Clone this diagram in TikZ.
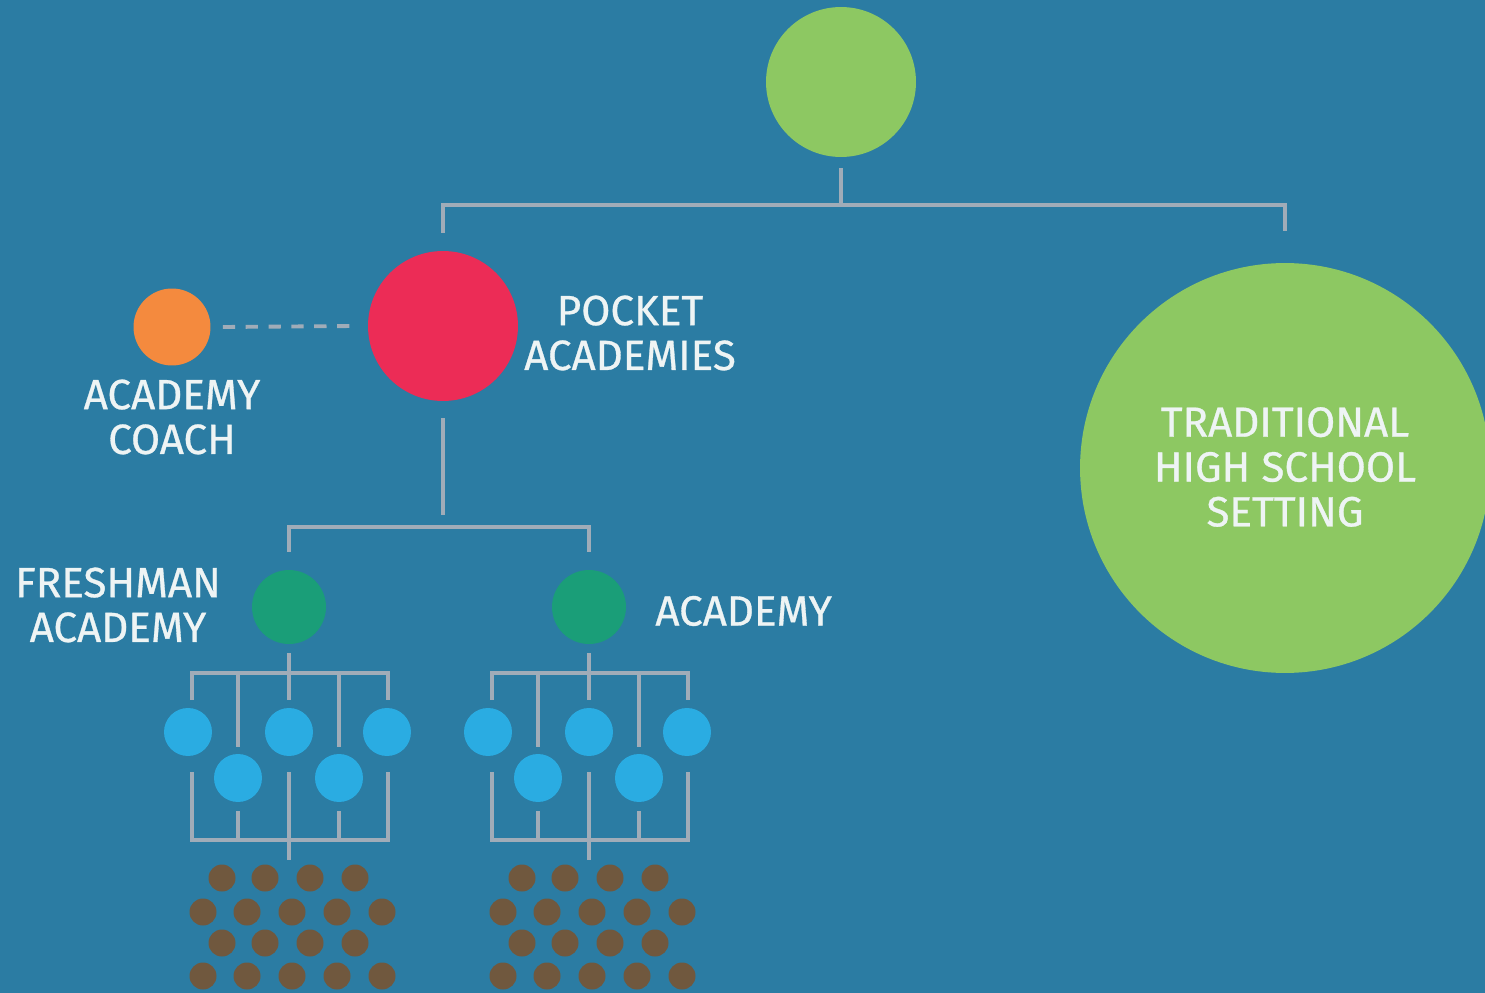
\documentclass[tikz,border=0pt]{standalone}
\usepackage{fontspec}
\setmainfont{Fira Sans}
\newfontfamily\lblfont{Fira Sans}[FakeBold=0.7]
\usetikzlibrary{calc}
\definecolor{bg}{RGB}{43,124,163}
\definecolor{lgreen}{RGB}{141,200,98}
\definecolor{pink}{RGB}{236,44,86}
\definecolor{orng}{RGB}{244,138,62}
\definecolor{dgreen}{RGB}{26,158,120}
\definecolor{lblue}{RGB}{42,172,226}
\definecolor{brwn}{RGB}{112,88,62}
\definecolor{lnc}{RGB}{160,172,184}
\definecolor{txt}{RGB}{238,244,244}
\begin{document}
\begin{tikzpicture}[x=0.02cm,y=-0.02cm,
  dot/.style={circle,inner sep=0pt,draw=none},
  conn/.style={draw=lnc,line width=2.2pt},
  dashconn/.style={draw=lnc,line width=2.2pt,dash pattern=on 7pt off 6pt},
  lbl/.style={text=txt,font=\lblfont\fontsize{24}{25.5}\selectfont,align=center,inner sep=0pt}]
\fill[bg] (0,0) rectangle (1485,993);
\useasboundingbox (0,0) rectangle (1485,993);
% main circles
\node[dot,fill=lgreen,minimum size=3cm] (top) at (841,82) {};
\node[dot,fill=pink,minimum size=3cm] (pocket) at (443,326) {};
\node[dot,fill=orng,minimum size=1.54cm] (coach) at (172,327) {};
\node[dot,fill=lgreen,minimum size=8.2cm] (trad) at (1285,468) {};
\node[dot,fill=dgreen,minimum size=1.48cm] (gfa) at (289,607) {};
\node[dot,fill=dgreen,minimum size=1.48cm] (gac) at (589,607) {};
% labels
\node[lbl] (coachlbl) at (172,417) {ACADEMY\\COACH};
\node[lbl] (pocketlbl) at (630,333) {POCKET\\ACADEMIES};
\node[lbl] (freshlbl) at (118,605) {FRESHMAN\\ACADEMY};
\node[lbl,anchor=west] (aclbl) at (655,611) {ACADEMY};
\node[lbl] (tradlbl) at (1285,467) {TRADITIONAL\\HIGH SCHOOL\\SETTING};
% top connectors
\coordinate (tbus) at (841,205);
\draw[conn] ($(top.south)+(0,11)$) -- (tbus);
\draw[conn] ($(pocket.north)+(0,-18)$) -- (443,205) -- (1285,205) -- ($(trad.north)+(0,-32)$);
\draw[dashconn] ($(coach.east)+(12,0)$) -- ($(pocket.west)+(-12,0)$);
% pocket to academies
\coordinate (pbus) at (443,527);
\draw[conn] ($(pocket.south)+(0,17)$) -- ($(pbus)+(0,-12)$);
\draw[conn] ($(gfa.north)+(0,-18)$) -- (289,527) -- (589,527) -- ($(gac.north)+(0,-18)$);
% sub-structures
\foreach \cx/\nm in {289/fa,589/ac}{
  \node[dot,fill=lblue,minimum size=0.96cm] (\nm b1) at ({\cx-101},732) {};
  \node[dot,fill=lblue,minimum size=0.96cm] (\nm b2) at ({\cx},732) {};
  \node[dot,fill=lblue,minimum size=0.96cm] (\nm b3) at ({\cx+98},732) {};
  \node[dot,fill=lblue,minimum size=0.96cm] (\nm b4) at ({\cx-51},778) {};
  \node[dot,fill=lblue,minimum size=0.96cm] (\nm b5) at ({\cx+50},778) {};
  % upper bus
  \draw[conn] ($(g\nm.south)+(0,9)$) -- ($(\nm b2.north)+(0,-8)$);
  \draw[conn] ({\cx-97},700) -- ({\cx-97},673) -- ({\cx+99},673) -- ({\cx+99},700);
  \draw[conn] ({\cx-51},673) -- ($(\nm b4.north)+(0,-7)$);
  \draw[conn] ({\cx+50},673) -- ($(\nm b5.north)+(0,-7)$);
  % lower bus
  \draw[conn] ({\cx-97},772) -- ({\cx-97},840) -- ({\cx+99},840) -- ({\cx+99},772);
  \draw[conn] ({\cx},772) -- ({\cx},860);
  \draw[conn] ($(\nm b4.south)+(0,9)$) -- ({\cx-51},840);
  \draw[conn] ($(\nm b5.south)+(0,9)$) -- ({\cx+50},840);
  % student dots
  \foreach \dx in {-67,-24,21,66}{
    \fill[brwn] ({\cx+\dx},878) circle (13.5);
    \fill[brwn] ({\cx+\dx},943) circle (13.5);
  }
  \foreach \dx in {-86,-42,3,48,93}{
    \fill[brwn] ({\cx+\dx},912) circle (13.5);
    \fill[brwn] ({\cx+\dx},976) circle (13.5);
  }
}
\end{tikzpicture}
\end{document}
